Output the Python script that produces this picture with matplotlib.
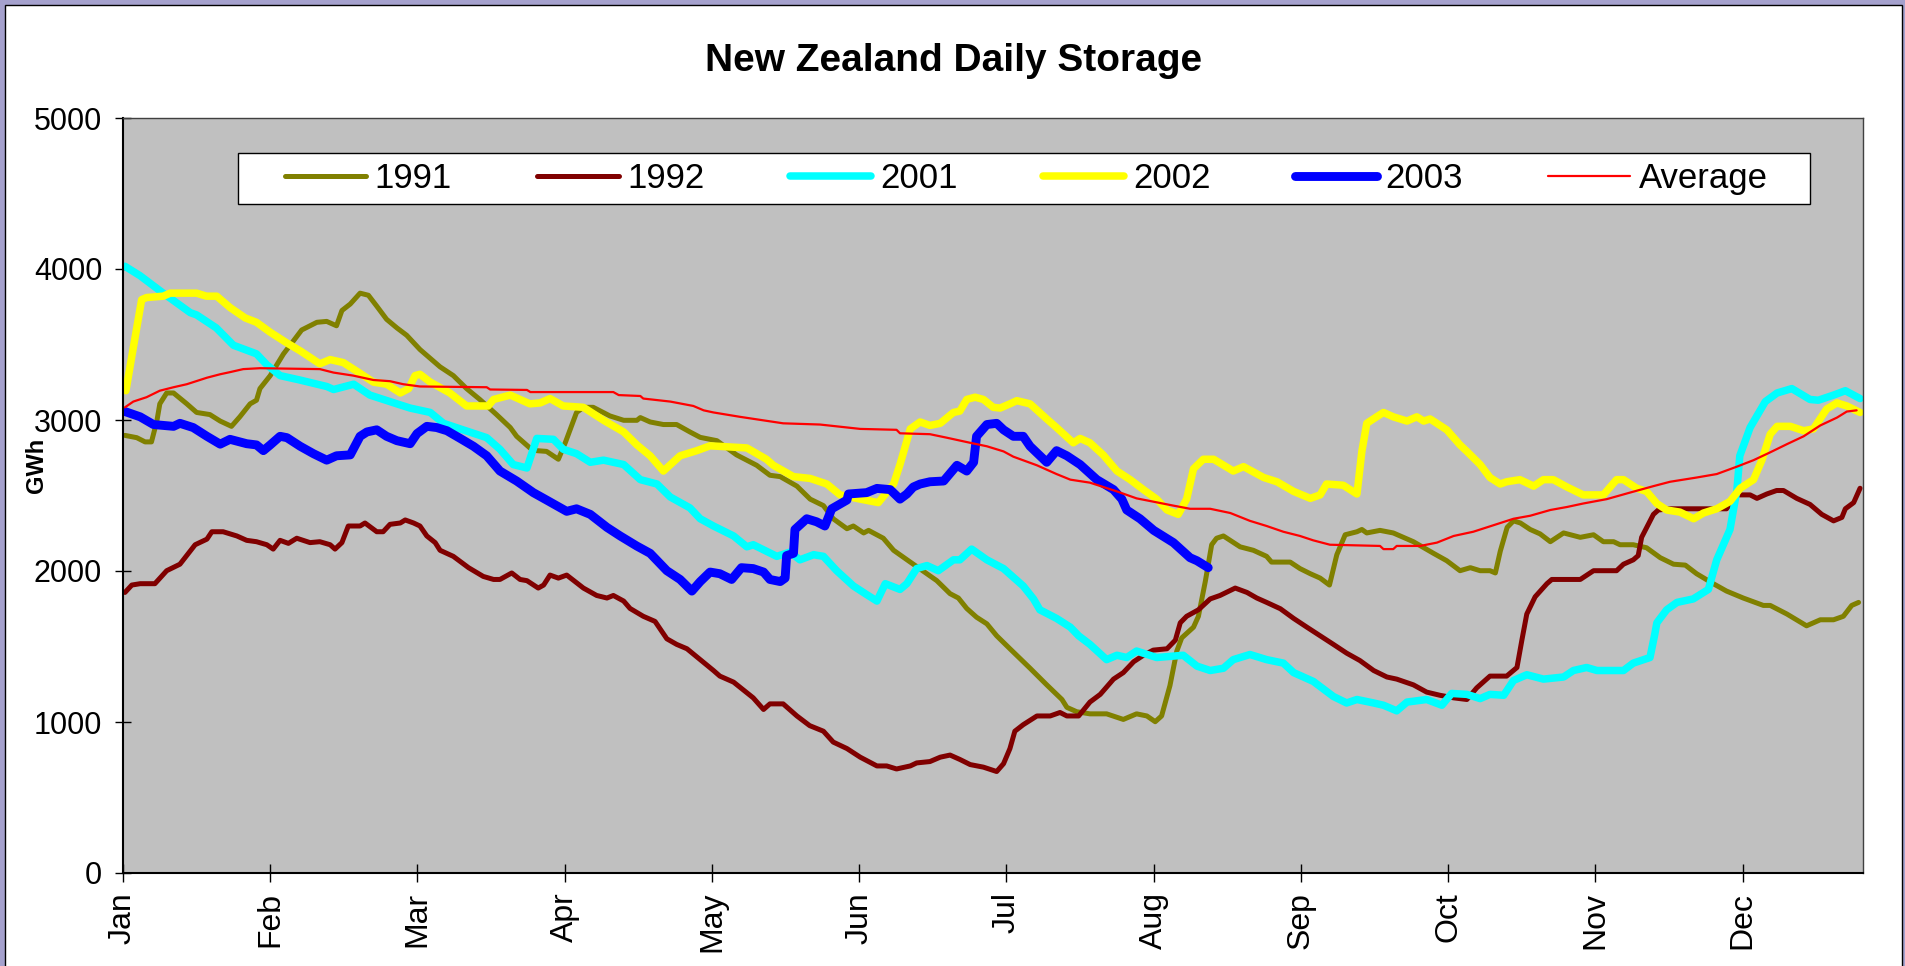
import matplotlib
matplotlib.use("Agg")
import matplotlib.pyplot as plt
from matplotlib.patches import Rectangle

# x axis is a day index (Excel category axis, one tick every 30 points)
months = ["Jan", "Feb", "Mar", "Apr", "May", "Jun",
          "Jul", "Aug", "Sep", "Oct", "Nov", "Dec"]
tick_step = 30
last_day = 354.5

d1991 = [0.4, 2.8, 4.5, 5.8, 6.9, 7.5, 8.9, 10.3, 13, 15, 17.7, 19.8, 22.1, 23.8, 25.9, 27.2, 27.9, 30,
         32.7, 34.4, 36.4, 39.5, 41.5, 43.5, 44.6, 46.3, 48.3, 50, 51.7, 53.7, 55.8, 57.8, 60.5, 64.6,
         67.3, 70, 72.7, 76.1, 78.9, 80.2, 82.9, 84.3, 86.3, 88.7, 90.1, 92.4, 93.8, 95.8, 99.2, 102,
         104.7, 105.4, 107.4, 110.1, 112.8, 115.5, 117.6, 121, 125, 129.1, 131.8, 133.9, 137.3, 140,
         142.7, 144.7, 147.5, 148.8, 150.9, 151.9, 154.9, 157, 160.4, 163.8, 165.8, 168.5, 170.2, 171.9,
         173.9, 176, 178, 180.7, 184.8, 188.2, 191.3, 192.3, 194.3, 197, 200.4, 203.8, 206.5, 208.6,
         210.3, 211.6, 213.3, 214.7, 215.7, 218.1, 219.1, 220.5, 221.8, 222.8, 224.2, 227.6, 230.3, 233,
         234, 237.8, 239.8, 241.9, 243.9, 245.8, 247.3, 249, 251.4, 252.4, 253.4, 256.1, 258.8, 262.9,
         267, 269.7, 272.4, 274.5, 276.5, 278.5, 279.6, 280.6, 282, 283.3, 284.7, 286.7, 288.7, 290.8,
         293.5, 296.9, 299.6, 301.6, 303.7, 305, 307.7, 310.4, 313.2, 315.9, 318.3, 320.6, 324, 326.7,
         330.1, 334.2, 335.6, 339, 343, 345.8, 348.5, 350.5, 352.2, 353.6]
v1991 = [2898, 2883, 2855, 2855, 2993, 3107, 3179, 3179, 3107, 3050, 3036, 2993, 2958, 3021, 3107, 3131, 3208, 3294,
         3438, 3510, 3596, 3647, 3653, 3624, 3725, 3768, 3840, 3826, 3754, 3667, 3610, 3561, 3467, 3352,
         3294, 3208, 3136, 3036, 2950, 2892, 2815, 2797, 2792, 2740, 2849, 3050, 3084, 3084, 3027, 2998,
         2998, 3016, 2987, 2970, 2970, 2921, 2885, 2863, 2769, 2700, 2634, 2625, 2562, 2476,
         2433, 2346, 2280, 2298, 2252, 2269, 2217, 2137, 2059, 1982, 1936, 1850, 1821, 1752,
         1694, 1650, 1571, 1485, 1356, 1246, 1149, 1097, 1068, 1054, 1054, 1017, 1054, 1040,
         1002, 1040, 1241, 1470, 1557, 1628, 1700, 1930, 2174, 2217, 2232, 2160, 2137, 2097,
         2059, 2059, 2016, 1982, 1953, 1907, 2108, 2240, 2260, 2275, 2252, 2269, 2252, 2194,
         2117, 2068, 2002, 2022, 2002, 2002, 1987, 2131, 2289, 2332, 2318, 2275, 2246, 2194,
         2252, 2223, 2240, 2194, 2194, 2174, 2174, 2154, 2088, 2045, 2039, 1982, 1916, 1867,
         1821, 1772, 1772, 1715, 1637, 1677, 1677, 1700, 1772, 1792]

d1992 = [0.4, 1.8, 3.5, 6.5, 8.9, 11.6, 14.7, 17.1, 18.1, 20.4, 23.2, 25.2, 27.2, 29.3, 30.6, 32, 33.7, 35.4,
         38.1, 40.1, 42.2, 43.2, 44.6, 45.9, 48.3, 49.3, 51.7, 53, 54.4, 56.5, 57.5, 59.2, 60.5, 61.9,
         63.6, 64.6, 67.3, 70.4, 73.4, 75.5, 76.8, 79.2, 80.9, 82.3, 84.6, 85.7, 87, 88.7, 90.4, 93.8,
         96.5, 98.6, 99.9, 102, 103.3, 106, 108.4, 110.8, 112.8, 114.9, 117.6, 120.3, 121.6, 124.4,
         126.4, 128.4, 130.5, 131.8, 134.5, 137.3, 139.9, 142.7, 144.7, 147.5, 150.2, 153.6, 155.6,
         157.6, 160.4, 161.7, 164.4, 166.5, 168.5, 170.5, 172.6, 175.3, 178, 179.4, 180.7, 181.7, 183.4,
         186.2, 188.9, 190.9, 192.3, 194.7, 197, 199.1, 201.8, 203.8, 205.9, 207.9, 209.9, 212.7, 214.4,
         215.4, 216.7, 219.1, 221.5, 223.5, 226.6, 229, 231, 233, 235.8, 238.5, 241.2, 243.9, 246.6,
         249.3, 252, 254.8, 257.5, 259.5, 262.9, 265.6, 268.3, 271.1, 273.8, 275.8, 278.5, 281.9, 284,
         285, 286, 287.7, 290.1, 291.1, 296.9, 299.6, 304.3, 305.7, 307.7, 308.7, 309.4, 311.8, 312.8,
         315.2, 326.7, 328.8, 331.5, 332.9, 334.9, 336.9, 338.3, 341, 343.7, 346.1, 348.5, 350.2, 350.9,
         352.6, 353.9]
v1992 = [1858, 1907, 1916, 1916, 2002, 2045, 2174, 2211, 2260, 2260, 2232, 2203, 2194, 2174, 2145, 2203, 2183, 2217,
         2188, 2194, 2174, 2145, 2188, 2298, 2298, 2318, 2260, 2260, 2309, 2318, 2338, 2318, 2298, 2232,
         2188, 2137, 2097, 2022, 1964, 1944, 1944, 1987, 1944, 1936, 1887, 1907, 1973, 1953, 1973, 1887,
         1838, 1821, 1838, 1801, 1752, 1700, 1666, 1551, 1514, 1485, 1413, 1341, 1304, 1264,
         1212, 1160, 1083, 1120, 1120, 1040, 976, 939, 867, 824, 767, 709, 709,
         689, 709, 729, 738, 767, 781, 752, 718, 701, 672, 724, 824, 939, 982,
         1040, 1040, 1063, 1040, 1040, 1132, 1183, 1284, 1327, 1399, 1442, 1476, 1485, 1542,
         1657, 1700, 1743, 1815, 1838, 1887, 1858, 1821, 1792, 1750, 1686, 1628, 1571, 1514,
         1456, 1407, 1341, 1298, 1284, 1246, 1198, 1177, 1160, 1149, 1226, 1304, 1304, 1361,
         1542, 1715, 1829, 1916, 1944, 1944, 2002, 2002, 2045, 2074, 2102, 2223, 2375, 2404,
         2412, 2412, 2504, 2504, 2481, 2510, 2533, 2533, 2481, 2441, 2375, 2332, 2355, 2412,
         2453, 2548]

d2001 = [0.4, 3.5, 8.2, 13.7, 15, 19, 22.5, 27.2, 29.3, 32, 36, 41.5, 42.9, 47, 50.3, 55.8, 58.5, 62.6,
         65.3, 68.7, 74.1, 76.8, 79.5, 82.3, 84.3, 87.7, 89.7, 92.4, 95.2, 97.9, 102, 105.4, 108.8,
         111.5, 115.5, 117.6, 120.3, 124.4, 127.1, 128.4, 133.2, 135.9, 137.9, 140.7, 142.7, 145.4,
         148.8, 151.5, 153.6, 155.3, 158.3, 159.7, 161.7, 163.8, 166.1, 169.2, 170.5, 172.9, 176,
         179.4, 183.4, 185.5, 186.8, 190.2, 193, 194.7, 197, 200.4, 202.5, 204.5, 206.5, 210.6, 216,
         218.8, 221.5, 224.2, 226.2, 229.6, 233, 236.4, 238.5, 242.5, 246.6, 249.3, 251.4, 254.8,
         256.8, 259.5, 261.6, 265.6, 268.7, 270.7, 273.8, 276.5, 278.5, 281.3, 283.3, 286, 289.4,
         293.5, 295.5, 298.2, 300.3, 305.7, 307.7, 311.1, 312.1, 312.5, 314.5, 316.6, 319.9, 323,
         324.7, 327.4, 328.8, 329.4, 331.5, 334.6, 337, 340, 343.7, 345.4, 348.5, 350.9, 353.9]
v2001 = [4018, 3955, 3840, 3711, 3696, 3610, 3495, 3438, 3366, 3294, 3265, 3222, 3202, 3237, 3165, 3107, 3079, 3050,
         2978, 2941, 2883, 2806, 2705, 2682, 2878, 2872, 2806, 2777, 2720, 2734, 2705, 2605, 2576,
         2490, 2418, 2346, 2298, 2232, 2160, 2174, 2097, 2125, 2074, 2108, 2097, 2002,
         1901, 1844, 1801, 1916, 1878, 1916, 2016, 2036, 2002, 2074, 2074, 2145, 2074,
         2016, 1901, 1815, 1743, 1686, 1628, 1571, 1514, 1413, 1442, 1427, 1470, 1427, 1442,
         1370, 1341, 1356, 1413, 1447, 1413, 1390, 1327, 1269, 1169, 1126, 1149, 1126,
         1111, 1074, 1132, 1149, 1111, 1189, 1183, 1155, 1183, 1177, 1275, 1313, 1284,
         1298, 1341, 1361, 1341, 1341, 1390, 1427, 1585, 1657, 1743, 1792, 1815, 1878,
         2074, 2275, 2533, 2763, 2950, 3122, 3179, 3208, 3136, 3131, 3165, 3194, 3142]

d2002 = [0.6, 1.8, 3.8, 4.8, 8.2, 9.6, 15, 17, 19.1, 21.8, 24.9, 27.2, 30, 33.4, 36.1, 40.1, 42.2, 44.9,
         48.3, 51, 53.7, 56.5, 58.2, 59.5, 60.5, 62.6, 66.6, 70, 74.4, 75.5, 78.9, 82.9, 85, 87, 89.7,
         93.8, 97.9, 102, 104.7, 107.4, 110.1, 113.5, 116.9, 119.6, 127.1, 131.1, 132.5, 136.6, 140,
         143.4, 146.1, 150.2, 153.9, 157, 158.3, 160.4, 162.4, 164.4, 166.5, 169.2, 170.5, 171.9, 173.6,
         175.3, 177.3, 178.7, 180.7, 182.1, 184.8, 188.2, 190.2, 193.6, 195, 197, 199.7, 202.5, 205.2,
         207.9, 210.6, 212.7, 215, 216.7, 218.1, 220.1, 222.2, 226.2, 228.3, 232.4, 235.1, 238.5, 241.9,
         243.9, 245.2, 248.6, 251.4, 252.4, 253.4, 255.4, 256.8, 258.8, 261.6, 263.6, 265, 266.3, 269.7,
         272.4, 273.8, 276.5, 278.5, 280.6, 281.9, 284.6, 287.4, 289.4, 291.4, 294.2, 297.5, 301.6,
         304.3, 305.7, 308.4, 310.4, 312.5, 314.5, 317.2, 320, 322, 324.7, 327.4, 329.5, 332.2, 333.9,
         335.6, 337, 339.7, 342.4, 344.4, 347.1, 349.2, 351.2, 353.9]
v2002 = [3194, 3423, 3797, 3811, 3820, 3840, 3840, 3820, 3820, 3745, 3676, 3647, 3581, 3510, 3458, 3372, 3400, 3380,
         3309, 3251, 3237, 3179, 3208, 3294, 3303, 3251, 3179, 3093, 3093, 3136, 3165, 3107, 3113, 3142, 3093,
         3084, 2998, 2921, 2835, 2763, 2662, 2763, 2797, 2829, 2815, 2740, 2700, 2625, 2613,
         2576, 2504, 2476, 2453, 2576, 2705, 2941, 2987, 2964, 2978, 3050, 3059, 3136, 3151,
         3136, 3084, 3079, 3107, 3128, 3107, 3007, 2950, 2849, 2878, 2849, 2769, 2662, 2605,
         2539, 2476, 2404, 2375, 2476, 2677, 2740, 2740, 2662, 2691, 2619, 2591, 2527, 2481,
         2504, 2576, 2568, 2510, 2792, 2978, 3021, 3050, 3021, 2993, 3021, 2993, 3007, 2935,
         2835, 2792, 2705, 2619, 2576, 2591, 2605, 2562, 2605, 2605, 2556, 2504, 2504,
         2605, 2605, 2548, 2527, 2447, 2404, 2390, 2346, 2384, 2412, 2461, 2548, 2605, 2734,
         2906, 2958, 2958, 2929, 2941, 3073, 3113, 3093, 3050]

d2003 = [0.4, 3.5, 6.2, 10.3, 11.6, 14.3, 17.1, 19.8, 21.8, 25.2, 27.2, 28.6, 30, 32, 33.4, 36.1, 38.8, 41.5,
         43.5, 46.3, 48.3, 49.7, 51.7, 53.7, 55.8, 58.5, 59.9, 61.9, 63.9, 66, 68.7, 71.4, 74.1, 76.8,
         80.2, 83.6, 86.3, 90.4, 92.4, 95.2, 98.6, 101.3, 104.7, 107.4, 110.8, 113.5, 115.9, 117.6,
         119.6, 121.6, 124, 126, 128.4, 130.5, 131.8, 133.9, 134.9, 135.2, 136.6, 136.9, 139.3, 141.3,
         143, 144.4, 147.5, 147.8, 151.5, 153.6, 156.3, 158.3, 159.7, 161, 162.4, 164.4, 167.2, 169.9,
         171.9, 173.3, 173.9, 176, 178, 179.4, 181.4, 183.4, 184.8, 188.2, 190.2, 192.3, 195, 198.4,
         201.8, 203.5, 204.5, 207.2, 210, 214, 217.4, 218.8, 221.1]
v2003 = [3056, 3021, 2970, 2958, 2978, 2950, 2892, 2840, 2872, 2843, 2835, 2797, 2835, 2892, 2883, 2826, 2777, 2734,
         2763, 2769, 2892, 2921, 2935, 2892, 2863, 2843, 2910, 2958, 2950, 2929, 2878, 2826, 2763, 2662,
         2596, 2519, 2470, 2395, 2412, 2375, 2289, 2232, 2165, 2117, 2002, 1944, 1867, 1930,
         1993, 1982, 1944, 2022, 2016, 1993, 1944, 1930, 1953, 2102, 2117, 2275, 2346, 2326,
         2298, 2412, 2470, 2510, 2519, 2547, 2539, 2476, 2510, 2556, 2576, 2591, 2596, 2700,
         2662, 2720, 2892, 2970, 2978, 2935, 2892, 2892, 2826, 2720, 2797, 2763, 2705, 2605,
         2539, 2476, 2404, 2346, 2269, 2188, 2088, 2068, 2022]

d_avg = [0.4, 2.1, 4.8, 7.5, 10.3, 13, 17.1, 19.8, 21.8, 24.5, 27.9, 40.1, 42.9, 46.9, 51, 54.4, 57.1, 60.5,
         74.1, 74.8, 82.3, 83, 99.9, 101, 105.4, 106, 111.5, 116.2, 118.3, 120.3, 125.7, 134.5, 142,
         150.2, 157.6, 158.3, 164.4, 167.8, 172.6, 176, 179.4, 181.4, 186.2, 190.2, 193, 197, 202.5,
         206.5, 214, 217.4, 221.5, 225.6, 229.6, 233, 236.4, 239.8, 242.5, 245.9, 256.1, 256.8, 258.8,
         259.5, 264.3, 267.7, 271.1, 275.1, 279.2, 283.3, 286.7, 290.8, 294.2, 297.5, 302.3, 307,
         311.8, 315.2, 320.6, 324.7, 328.8, 332.2, 335.6, 339, 342.4, 345.8, 349.2, 351.2, 353.2]
v_avg = [3084, 3122, 3151, 3194, 3217, 3237, 3280, 3303, 3317, 3337, 3343, 3337, 3314, 3294, 3265, 3257, 3237, 3222,
         3217, 3202, 3199, 3185, 3185, 3165, 3159, 3142, 3122, 3093, 3064, 3050, 3021, 2978, 2970,
         2941, 2935, 2912, 2906, 2883, 2849, 2826, 2792, 2757, 2700, 2642, 2605, 2585, 2527,
         2481, 2433, 2412, 2412, 2384, 2332, 2298, 2260, 2232, 2203, 2174, 2166, 2145, 2145,
         2166, 2166, 2188, 2232, 2260, 2303, 2346, 2366, 2404, 2424, 2447, 2476, 2519,
         2562, 2591, 2619, 2642, 2691, 2734, 2786, 2840, 2892, 2964, 3016, 3056, 3064]

fig = plt.figure(figsize=(19.06, 9.66), dpi=100, facecolor="#A5A1CD")
# white chart area with thin black border, lavender frame around it
fig.patches.append(Rectangle((5 / 1906, -0.01), 1897 / 1906, 1.01 - 5 / 966,
                             transform=fig.transFigure, facecolor="white",
                             edgecolor="black", linewidth=1, zorder=-10))

ax = fig.add_axes([123 / 1906, 93 / 966, 1740 / 1906, 755 / 966])
ax.set_facecolor("#C0C0C0")

style = dict(solid_joinstyle="round", solid_capstyle="round")
ax.plot(d1991, v1991, color="#808000", linewidth=3.6, label="1991", **style)
ax.plot(d1992, v1992, color="#800000", linewidth=3.6, label="1992", **style)
ax.plot(d2001, v2001, color="#00FFFF", linewidth=5.4, label="2001", **style)
ax.plot(d2002, v2002, color="#FFFF00", linewidth=5.4, label="2002", **style)
ax.plot(d2003, v2003, color="#0000FF", linewidth=6.4, label="2003", **style)
ax.plot(d_avg, v_avg, color="#FF0000", linewidth=1.6, label="Average", **style)

ax.set_xlim(0, last_day)
ax.set_ylim(0, 5000)
ax.set_xticks([i * tick_step for i in range(len(months))])
ax.set_xticklabels(months, rotation=90, fontsize=23, family="Liberation Sans")
ax.set_yticks(range(0, 5001, 1000))
ax.set_yticklabels([str(v) for v in range(0, 5001, 1000)], fontsize=22, family="Liberation Sans")
ax.tick_params(axis="x", direction="inout", length=13, width=1, pad=7, color="black")
ax.tick_params(axis="y", direction="inout", length=12, width=1, pad=9, color="black")

for side in ["left", "bottom"]:
    ax.spines[side].set_linewidth(1.5)
    ax.spines[side].set_color("black")
for side in ["top", "right"]:
    ax.spines[side].set_linewidth(1)
    ax.spines[side].set_color("#404040")

# legend frame drawn as its own box, entries centred on it
ax.add_patch(Rectangle((0.0661, 0.8861), 0.9034, 0.0675, transform=ax.transAxes,
                       facecolor="white", edgecolor="black", linewidth=1, zorder=4))
leg = ax.legend(loc="center", bbox_to_anchor=(0.519, 0.9199), ncol=6, frameon=False,
                prop={"family": "Liberation Sans", "size": 25},
                handlelength=2.35, handletextpad=0.25, columnspacing=2.45, borderpad=0.2)
leg.set_zorder(5)

fig.text(954 / 1906, 1 - 61 / 966, "New Zealand Daily Storage", ha="center", va="center",
         fontsize=28, fontweight="bold", family="Liberation Sans")
fig.text(36 / 1906, 1 - 465 / 966, "GWh", ha="center", va="center", rotation=90,
         fontsize=17, fontweight="bold", family="Liberation Sans")

fig.savefig("out.png", dpi=100, facecolor=fig.get_facecolor())
